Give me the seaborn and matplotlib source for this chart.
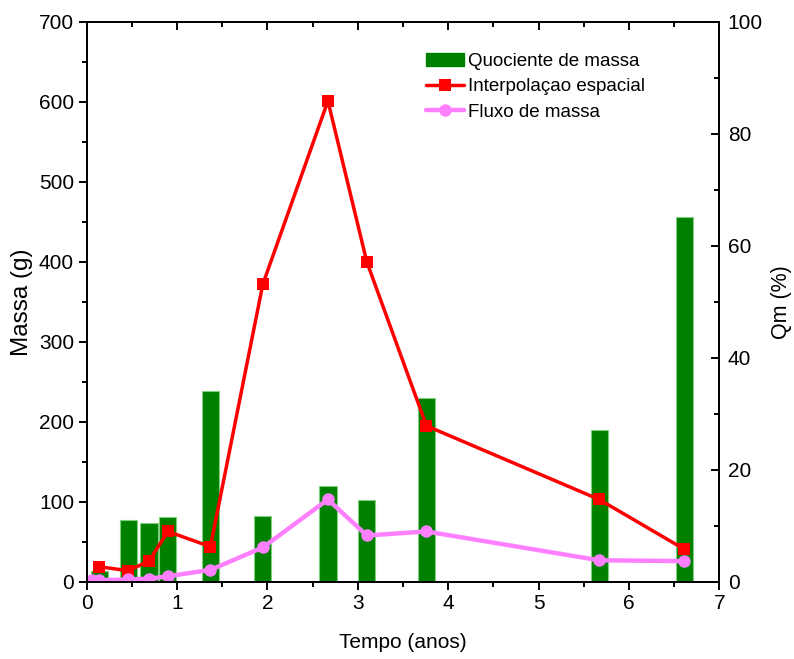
import numpy as np
import matplotlib
matplotlib.use("Agg")
import matplotlib.pyplot as plt
from matplotlib.ticker import MultipleLocator
from matplotlib.patches import Patch
from matplotlib.lines import Line2D
import seaborn as sns

# ---- data ----
tempo_barras = [0.14, 0.46, 0.69, 0.90, 1.37, 1.95, 2.67, 3.10, 3.76, 5.67, 6.61]
quociente_massa = [1.9, 11.0, 10.5, 11.5, 34.0, 11.7, 17.1, 14.7, 32.9, 27.1, 65.1]

tempo_interp = [0.14, 0.46, 0.69, 0.90, 1.37, 1.95, 2.67, 3.10, 3.76, 5.67, 6.61]
interpolacao_espacial = [19, 14, 26, 63, 44, 372, 601, 400, 195, 103, 41]

tempo_fluxo = [0.06, 0.14, 0.46, 0.69, 0.90, 1.37, 1.95, 2.67, 3.10, 3.76, 5.67, 6.61]
fluxo_massa = [2, 2, 3, 4, 7, 15, 43, 103, 58, 63, 27, 26]

x_ticks = [0, 1, 2, 3, 4, 5, 6, 7]
left_ticks = [0, 100, 200, 300, 400, 500, 600, 700]
right_ticks = [0, 20, 40, 60, 80, 100]

sns.set_style("white")
plt.rcParams["font.family"] = ["Liberation Sans", "DejaVu Sans"]
plt.rcParams["text.color"] = "black"
plt.rcParams["axes.labelcolor"] = "black"
plt.rcParams["xtick.color"] = "black"
plt.rcParams["ytick.color"] = "black"

fig = plt.figure(figsize=(7.94, 6.59), dpi=100)
ax1 = fig.add_axes([0.109, 0.117, 0.797, 0.850])
ax2 = ax1.twinx()

# bars (right axis)
BAR_W = 0.19
wfac = BAR_W / np.min(np.diff(np.sort(tempo_barras)))
sns.barplot(x=tempo_barras, y=quociente_massa, native_scale=True, width=wfac,
            color="#008000", saturation=1, edgecolor="#7fcf7f", linewidth=0.8,
            errorbar=None, ax=ax2)

# lines (left axis)
sns.lineplot(x=tempo_interp, y=interpolacao_espacial, color="#ff0000", linewidth=2.5,
             marker="s", markersize=8.5, markeredgewidth=0, ax=ax1, sort=False)
sns.lineplot(x=tempo_fluxo, y=fluxo_massa, color="#ff80ff", linewidth=3.2,
             marker="o", markersize=9, markeredgewidth=0, ax=ax1, sort=False)

ax1.set_zorder(ax2.get_zorder() + 1)
ax1.patch.set_visible(False)

ax1.set_xlim(0, 7)
ax1.set_ylim(0, 700)
ax2.set_ylim(0, 100)
ax2.set_xlim(0, 7)
ax1.set_xticks(x_ticks)
ax1.set_yticks(left_ticks)
ax2.set_yticks(right_ticks)
ax1.xaxis.set_minor_locator(MultipleLocator(0.5))
ax1.yaxis.set_minor_locator(MultipleLocator(50))
ax2.yaxis.set_minor_locator(MultipleLocator(10))

for a in (ax1, ax2):
    for s in a.spines.values():
        s.set_linewidth(1.4)
        s.set_color("black")

ax1.tick_params(axis="both", which="major", direction="out", length=6, width=1.4,
                labelsize=15, colors="black", left=True, bottom=True, top=False, right=False, pad=3)
ax1.tick_params(axis="both", which="minor", direction="out", length=3.5, width=1.4,
                left=True, bottom=True, top=False, right=False)
ax2.tick_params(axis="y", which="major", direction="in", length=6, width=1.4,
                labelsize=15, colors="black", right=True, left=False, pad=6)
ax2.tick_params(axis="y", which="minor", direction="in", length=3.5, width=1.4,
                right=True, left=False)
ax2.tick_params(axis="x", which="both", bottom=False, top=False, labelbottom=False)

top = ax1.secondary_xaxis("top")
top.set_xticks(x_ticks)
top.xaxis.set_minor_locator(MultipleLocator(0.5))
top.tick_params(which="major", direction="in", length=6, width=1.4, labeltop=False)
top.tick_params(which="minor", direction="in", length=3.5, width=1.4)
top.spines["top"].set_linewidth(1.4)

ax1.set_xlabel("Tempo (anos)", fontsize=15, labelpad=14)
ax1.set_ylabel("Massa (g)", fontsize=17.5, labelpad=4)
ax2.set_ylabel("Qm (%)", fontsize=15.5, labelpad=6)

handles = [
    Patch(facecolor="#008000", edgecolor="#008000"),
    Line2D([], [], color="#ff0000", linewidth=2.5, marker="s", markersize=8.5, markeredgewidth=0),
    Line2D([], [], color="#ff80ff", linewidth=3.2, marker="o", markersize=9, markeredgewidth=0),
]
labels = ["Quociente de massa", "Interpolaçao espacial", "Fluxo de massa"]
ax1.legend(handles, labels, loc="upper left", bbox_to_anchor=(0.51, 0.975), frameon=False,
           fontsize=13.5, handlelength=2.0, handletextpad=0.25, labelspacing=0.45)

fig.savefig("out.png", dpi=100)
